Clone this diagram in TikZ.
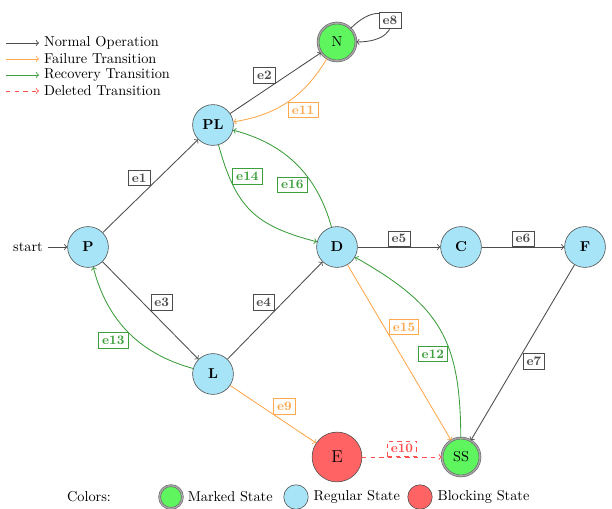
\documentclass[tikz,border=0pt]{standalone}
\usepackage{tikz}
\usetikzlibrary{positioning}

\definecolor{regfill}{RGB}{168,228,247}
\definecolor{markfill}{RGB}{94,245,94}
\definecolor{blockfill}{RGB}{255,99,99}
\definecolor{failcol}{RGB}{255,168,77}
\definecolor{reccol}{RGB}{60,158,60}
\definecolor{delcol}{RGB}{255,80,80}

\tikzset{
    state/.style={circle, draw=black!70, minimum size=1cm, inner sep=0pt},
    regular/.style={state, fill=regfill, font=\bfseries},
    marked/.style={state, fill=markfill, draw=black!60, double=gray!70,
        double distance=1pt, minimum size=0.93cm},
    blocking/.style={state, fill=blockfill, minimum size=1.22cm, font=\large},
    normal/.style={->, semithick, black!70},
    failure/.style={->, semithick, failcol},
    recovery/.style={->, semithick, reccol},
    deleted/.style={->, semithick, delcol, dashed},
    lbl/.style={draw, fill=white, thin, font=\small\bfseries, inner sep=2.5pt}
}

\begin{document}
\begin{tikzpicture}[x=0.0245cm, y=-0.0245cm, auto]
    \useasboundingbox (0,0) rectangle (612,509);

    % states
    \node[regular] (P) at (88,247) {P};
    \node[regular] (PL) at (213,125) {PL};
    \node[marked] (N) at (337,42) {N};
    \node[regular] (D) at (337,247) {D};
    \node[regular] (C) at (461,247) {C};
    \node[regular] (F) at (585,247) {F};
    \node[regular] (L) at (213,374) {L};
    \node[blocking] (E) at (337,457) {E};
    \node[marked] (SS) at (461,457) {SS};

    \node (start) at (28,247) {start};
    \draw[normal] (start) -- (P);

    % normal operation
    \draw[normal] (P) -- node[lbl] {e1} (PL);
    \draw[normal] (PL) -- node[lbl] {e2} (N);
    \draw[normal] (P) -- node[lbl] {e3} (L);
    \draw[normal] (L) -- node[lbl] {e4} (D);
    \draw[normal] (D) -- node[lbl] {e5} (C);
    \draw[normal] (C) -- node[lbl] {e6} (F);
    \draw[normal] (F) -- node[lbl] {e7} (SS);
    \draw[normal] (N.45) to[out=45, in=0, min distance=14mm]
        node[lbl, auto=false] {e8} (N.east);

    % failure / recovery / deleted
    \draw[failure] (L) -- node[lbl] {e9} (E);
    \draw[deleted] (E) -- node[lbl] {e10} (SS);
    \draw[failure] (N) to[bend left=25] node[lbl] {e11} (PL);
    \draw[recovery] (SS) to[bend right=30, looseness=1.2]
        node[lbl, pos=0.4] {e12} (D);
    \draw[recovery] (L) to[bend left=30] node[lbl] {e13} (P);
    \draw[recovery] (PL) to[bend right=30, looseness=1.2]
        node[lbl, pos=0.25] {e14} (D);
    \draw[failure] (D) -- node[lbl, pos=0.4] {e15} (SS);
    \draw[recovery] (D) to[bend right=30] node[lbl, pos=0.38] {e16} (PL);

    % legend, transitions
    \foreach \y/\sty/\txt [count=\i] in {43/normal/Normal Operation,
        59/failure/Failure Transition, 75/recovery/Recovery Transition,
        91/deleted/Deleted Transition} {
        \coordinate (leg\i) at (6,\y);
        \node[right] (legtxt\i) at (39,\y) {\txt};
        \draw[\sty] (leg\i) -- (legtxt\i.west);
    }

    % legend, colours
    \node (colors) at (89,497) {Colors:};
    \node[marked, minimum size=0.56cm] (lgm) at (171,497) {};
    \node[right=0pt of lgm] (lgmtxt) {Marked State};
    \node[regular, minimum size=0.6cm] (lgr) at (296,497) {};
    \node[right=0pt of lgr] (lgrtxt) {Regular State};
    \node[blocking, minimum size=0.6cm] (lgb) at (420,497) {};
    \node[right=0pt of lgb] (lgbtxt) {Blocking State};
\end{tikzpicture}
\end{document}
